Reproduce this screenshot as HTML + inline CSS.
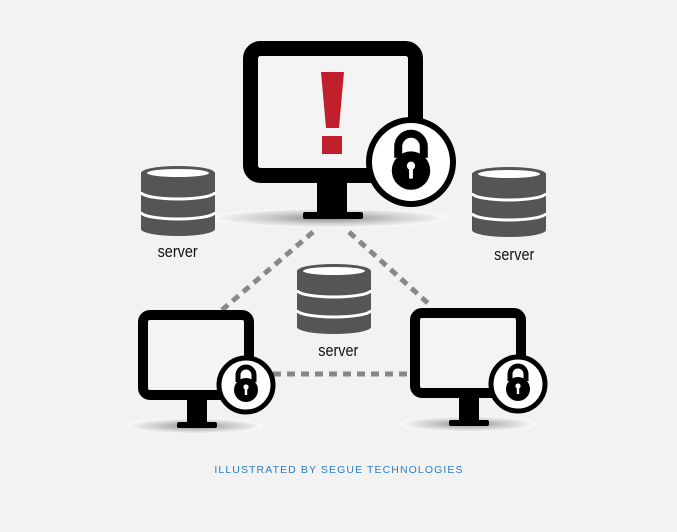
<!DOCTYPE html>
<html><head><style>
html,body{margin:0;padding:0;background:#f2f2f2;}
svg{display:block}
</style></head><body>
<svg width="677" height="532" viewBox="0 0 677 532" xmlns="http://www.w3.org/2000/svg">
<defs>
<radialGradient id="sh" cx="50%" cy="50%" r="50%">
<stop offset="0" stop-color="#8a8a8a"/><stop offset="0.55" stop-color="#cfcfcf"/><stop offset="0.85" stop-color="#ececec"/><stop offset="0.95" stop-color="#fafafa"/><stop offset="1" stop-color="#f2f2f2"/>
</radialGradient>
<g id="srv">
<path d="M0 6 A37 7 0 0 1 74 6 L74 62 A37 7 0 0 1 0 62 Z" fill="#555"/>
<path d="M0 25 A37 7 0 0 0 74 25" fill="none" stroke="#fff" stroke-width="3"/>
<path d="M0 45 A37 7 0 0 0 74 45" fill="none" stroke="#fff" stroke-width="3"/>
<ellipse cx="37" cy="6" rx="31" ry="4" fill="#fff"/>
</g>
<g id="lk">
<path d="M-8 -2 V-9 A8 8 0 0 1 8 -9 V-2" fill="none" stroke="#000" stroke-width="5"/>
<circle cx="0" cy="6" r="12" fill="#000"/>
<circle cx="0" cy="3" r="2.6" fill="#fff"/>
<rect x="-1.2" y="3" width="2.4" height="8" fill="#fff"/>
</g>
</defs>
<rect width="677" height="532" fill="#f2f2f2"/>

<g stroke="#888" stroke-width="5" stroke-dasharray="8 6" fill="none">
<line x1="313" y1="232" x2="222" y2="310"/>
<line x1="349" y1="232" x2="430" y2="305"/>
<line x1="273" y1="374" x2="410" y2="374"/>
</g>

<ellipse cx="330" cy="218" rx="122" ry="10" fill="url(#sh)"/>
<rect x="250.5" y="48.5" width="165" height="127" rx="10" fill="#f4f4f4" stroke="#000" stroke-width="15"/>
<rect x="317" y="182" width="30" height="32" fill="#000"/>
<rect x="303" y="212" width="60" height="7" rx="2" fill="#000"/>
<path d="M321 72 H344 L339 128 H326 Z" fill="#c11f2c"/>
<rect x="322" y="136" width="20" height="18" fill="#c11f2c"/>
<circle cx="411" cy="162" r="42" fill="#fff" stroke="#000" stroke-width="6"/>
<use href="#lk" transform="translate(411,161) scale(1.6)"/>

<use href="#srv" x="141" y="167"/>
<use href="#srv" x="472" y="168"/>
<use href="#srv" x="297" y="265"/>
<g font-family="'Liberation Sans',sans-serif" font-size="17" fill="#111" text-anchor="middle" transform="scale(0.85,1)">
<text x="209" y="257">server</text>
<text x="605" y="260">server</text>
<text x="398" y="356">server</text>
</g>

<ellipse cx="195" cy="426" rx="70" ry="8" fill="url(#sh)"/>
<rect x="143" y="315" width="106" height="80" rx="7" fill="#f4f4f4" stroke="#000" stroke-width="10"/>
<rect x="187" y="399" width="20" height="26" fill="#000"/>
<rect x="177" y="422" width="40" height="6" rx="2" fill="#000"/>
<circle cx="246" cy="385" r="27" fill="#fff" stroke="#000" stroke-width="5"/>
<use href="#lk" transform="translate(246,384)"/>

<ellipse cx="468" cy="424" rx="70" ry="8" fill="url(#sh)"/>
<rect x="415" y="313" width="106" height="80" rx="7" fill="#f4f4f4" stroke="#000" stroke-width="10"/>
<rect x="459" y="397" width="20" height="26" fill="#000"/>
<rect x="449" y="420" width="40" height="6" rx="2" fill="#000"/>
<circle cx="518" cy="384" r="27" fill="#fff" stroke="#000" stroke-width="5"/>
<use href="#lk" transform="translate(518,383)"/>

<text x="339" y="473" font-family="'Liberation Sans',sans-serif" font-size="10.5" letter-spacing="1.1" fill="#2a7fc1" text-anchor="middle">ILLUSTRATED BY SEGUE TECHNOLOGIES</text>
</svg>
</body></html>
